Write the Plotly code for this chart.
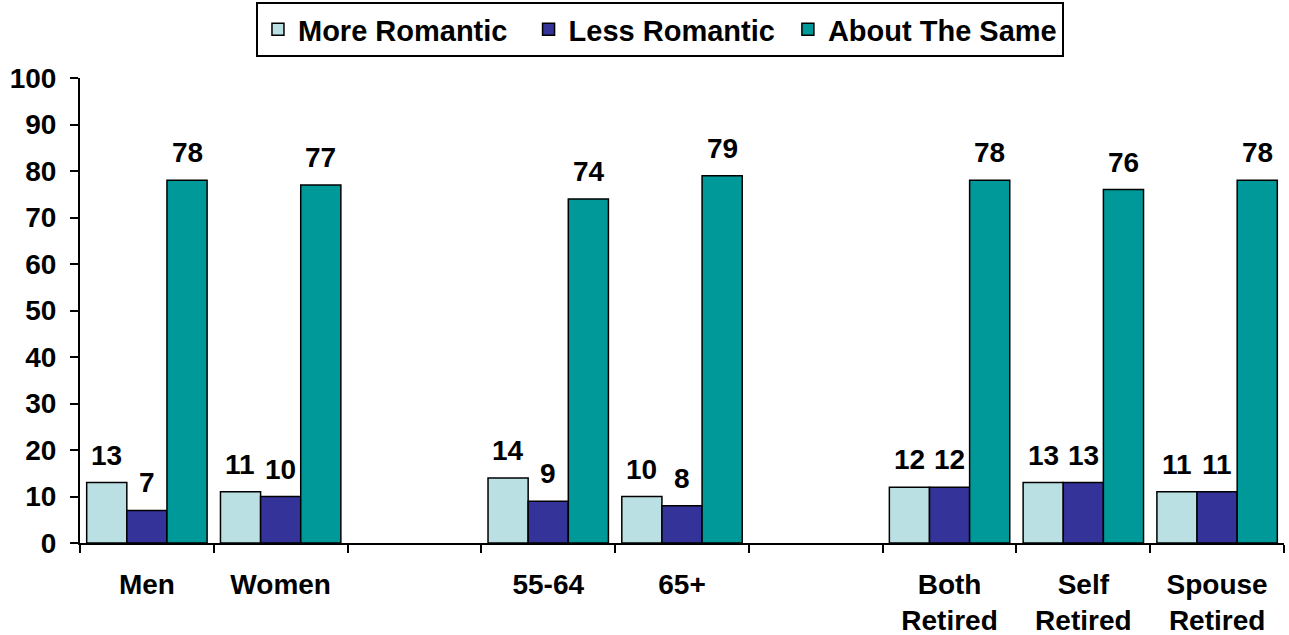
import plotly.graph_objects as go

categories = ["Men", "Women", " ", "55-64", "65+", "  ", "Both Retired", "Self Retired", "Spouse Retired"]
tick_labels = ["Men", "Women", "", "55-64", "65+", "", "Both<br>Retired", "Self<br>Retired", "Spouse<br>Retired"]
series_names = ["More Romantic", "Less Romantic", "About The Same"]
more_romantic = [13, 11, None, 14, 10, None, 12, 13, 11]
less_romantic = [7, 10, None, 9, 8, None, 12, 13, 11]
about_same = [78, 77, None, 74, 79, None, 78, 76, 78]
colors = ["#BBE0E3", "#333399", "#009999"]

FONT = "Liberation Sans, Arial, sans-serif"
fig = go.Figure()
annotations = []
shifts = [-40.3, 0, 40.3]
pads = ["\u00a0\u00a0", "\u00a0", ""]
for name, vals, color, sh, pad in zip(series_names, [more_romantic, less_romantic, about_same], colors, shifts, pads):
    fig.add_trace(go.Bar(
        name=name + pad, x=categories, y=vals,
        marker=dict(color=color, line=dict(color="black", width=1.5)),
    ))
    for c, v in zip(categories, vals):
        if v is None:
            continue
        annotations.append(dict(
            x=c, y=v, xref="x", yref="y", text=f"<b>{v}</b>", showarrow=False,
            xanchor="center", yanchor="bottom", xshift=sh, yshift=10,
            font=dict(family=FONT, size=28, color="black"),
        ))

fig.update_layout(
    width=1289, height=635,
    paper_bgcolor="white", plot_bgcolor="white",
    margin=dict(l=80, r=5, t=78, b=92),
    barmode="group", bargap=0.1, bargroupgap=0,
    font=dict(family=FONT, size=28, color="black"),
    annotations=annotations,
    legend=dict(
        orientation="h", xref="container", yref="container",
        x=0.512, xanchor="center", y=0.997, yanchor="top",
        bordercolor="black", borderwidth=2, bgcolor="white",
        font=dict(family=FONT, size=29, color="black", weight="bold"),
    ),
    xaxis=dict(
        type="category", categoryorder="array", categoryarray=categories,
        tickmode="array", tickvals=categories,
        ticktext=[f"<b>{t}</b>" if t else "" for t in tick_labels],
        tickson="boundaries", ticks="outside", ticklen=8, tickwidth=2, tickcolor="black",
        showline=True, linecolor="black", linewidth=2, showgrid=False,
        ticklabelstandoff=15, automargin=False,
        tickfont=dict(family=FONT, size=28, color="black"),
        range=[-0.5, 8.5],
    ),
    yaxis=dict(
        range=[0, 100], tickmode="linear", tick0=0, dtick=10,
        ticks="outside", ticklen=8, tickwidth=2, tickcolor="black",
        showline=True, linecolor="black", linewidth=2, showgrid=False, zeroline=False,
        automargin=False, ticklabelstandoff=8,
        tickfont=dict(family=FONT, size=28, color="black", weight="bold"),
    ),
)

fig.write_html("out.html")
